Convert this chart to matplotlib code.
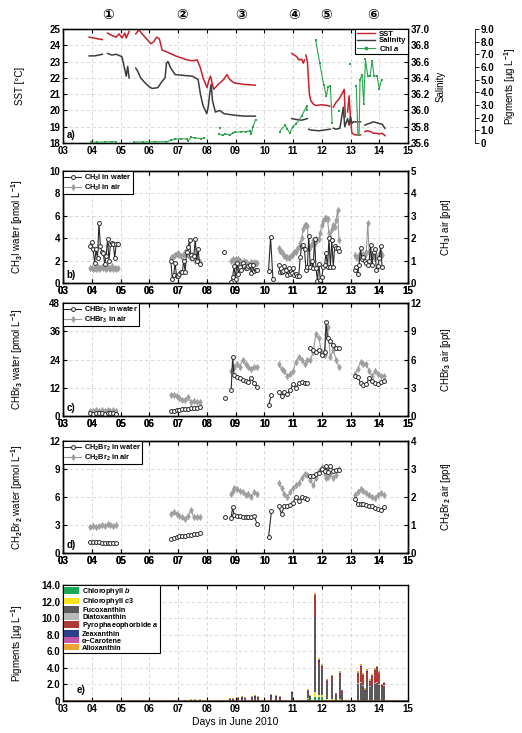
import numpy as np
import matplotlib
matplotlib.use('Agg')
import matplotlib.pyplot as plt
from matplotlib.patches import Patch
from matplotlib.lines import Line2D
from matplotlib.transforms import blended_transform_factory

plt.rcParams['font.family'] = ['Liberation Sans', 'DejaVu Sans', 'Noto Sans CJK JP']
plt.rcParams['font.weight'] = 'bold'
plt.rcParams['mathtext.fontset'] = 'custom'
plt.rcParams['mathtext.rm'] = 'Liberation Sans:bold'
plt.rcParams['mathtext.it'] = 'Liberation Sans:italic:bold'
plt.rcParams['mathtext.bf'] = 'Liberation Sans:bold'
plt.rcParams['mathtext.default'] = 'rm'
plt.rcParams['axes.unicode_minus'] = False

nan = np.nan

day_labels = ['03', '04', '05', '06', '07', '08', '09', '10', '11', '12', '13', '14', '15']
day_ticks = [3, 4, 5, 6, 7, 8, 9, 10, 11, 12, 13, 14, 15]
station_labels = ['①', '②', '③', '④', '⑤', '⑥']
station_days = [4.55, 7.15, 9.2, 11.05, 12.15, 13.8]

# ---------------- panel a ----------------
sst_t = [3.91, 4.05, 4.2, 4.37, nan,
         4.55, 4.7, 4.85, 4.95, 5.05, 5.15, 5.2, 5.3, nan,
         5.53, 5.64, 5.75, 5.93, 6.05, 6.15, 6.26, 6.35, 6.45, 6.6, 6.91, 7.32, 7.5, 7.67, 7.78, 7.87, 8.01, 8.08,
         8.13, 8.24, 8.4, 8.59, 8.7, 8.8, 8.94, 9.1, 9.28, 9.69, nan,
         10.96, 11.13, 11.2, 11.3, 11.36, 11.4, nan,
         11.45, 11.5, 11.57, 11.62, 11.7, 11.8, 12.0, 12.2, 12.28, nan,
         12.4, 12.5, 12.6, 12.7, 12.78, 12.8, 12.82, nan,
         12.9, 12.95, 13.0, 13.05, 13.15, 13.35, nan,
         13.5, 13.6, 13.7, 13.8, 13.9, 14.0, 14.1, 14.2]
sst_v = [24.5, 24.45, 24.4, 24.35, nan,
         24.75, 24.6, 24.5, 24.7, 24.45, 24.75, 24.45, 24.85, nan,
         24.7, 24.95, 24.7, 24.35, 24.1, 24.2, 24.5, 24.4, 23.7, 23.6, 23.35, 23.1, 23.05, 23.1, 22.6, 22.0, 21.4, 21.9,
         22.1, 21.3, 21.6, 21.9, 22.2, 21.9, 21.7, 21.65, 21.6, 21.55, nan,
         23.5, 23.3, 23.1, 23.15, 22.9, 23.1, nan,
         23.4, 23.0, 21.0, 20.6, 20.4, 20.3, 20.35, 20.3, 20.25, nan,
         20.2, 20.5, 20.7, 21.0, 21.3, 20.4, 19.6, nan,
         19.9, 20.9, 19.5, 18.6, 18.5, 18.5, nan,
         18.7, 18.75, 18.7, 18.6, 18.6, 18.55, 18.6, 18.45]

sal_t = [3.91, 4.1, 4.25, 4.37, nan,
         4.55, 4.7, 4.85, 5.05, 5.15, 5.2, 5.25, 5.3, nan,
         5.53, 5.6, 5.7, 5.85, 6.0, 6.1, 6.3, 6.45, 6.5, 6.55, 6.6, 6.65, 6.75, 6.9, 7.2, 7.5, 7.7, 7.78, 7.87, 8.0,
         8.05, 8.1, 8.15, 8.2, 8.3, 8.45, 8.6, 8.8, 9.0, 9.3, 9.69, nan,
         10.96, 11.1, 11.3, 11.5, nan,
         11.55, 11.6, 11.9, 12.1, 12.3, nan,
         12.4, 12.5, 12.63, 12.75, 12.8, 12.9, 12.95, 13.0, 13.05, 13.1, 13.35, nan,
         13.5, 13.65, 13.8, 13.9, 14.0, 14.1, 14.2]
sal_v = [36.67, 36.67, 36.68, 36.69, nan,
         36.70, 36.68, 36.69, 36.66, 36.5, 36.42, 36.54, 36.4, nan,
         36.52, 36.48, 36.4, 36.34, 36.29, 36.27, 36.28, 36.36, 36.38, 36.4, 36.58, 36.6, 36.52, 36.44, 36.43, 36.42,
         36.38, 36.2, 36.06, 35.96, 36.04, 36.2, 36.32, 36.12, 35.98, 36.0, 35.96, 35.95, 35.94, 35.93, 35.93, nan,
         35.9, 35.89, 35.88, 35.9, nan,
         35.77, 35.76, 35.75, 35.76, 35.77, nan,
         35.78, 35.77, 35.78, 36.04, 35.8, 35.9, 35.82, 35.92, 35.84, 35.86, 35.86, nan,
         35.82, 35.84, 35.86, 35.85, 35.84, 35.83, 35.78]

chla_t = [3.97, 4.2, 4.45, 4.7, 4.85, nan,
          5.47, 5.8, 6.2, 6.6, 6.75, 6.9, 7.1, 7.3, 7.35, 7.45, 7.6, 7.8, 7.92, nan,
          8.47, nan,
          8.42, 8.55, 8.65, 8.8, 8.9, 9.0, 9.2, 9.35, 9.5, 9.55, 9.6, 9.7, nan,
          10.54, 10.72, 10.8, 10.89, 11.0, 11.1, 11.3, 11.47, 11.5, nan,
          11.79, 11.93, 12.07, 12.16, 12.22, 12.3, 12.36, nan,
          12.6, nan,
          12.97, nan,
          13.2, 13.26, 13.3, 13.33, 13.4, 13.46, 13.52, 13.6, 13.68, 13.75, 13.82, 13.92, 14.0, 14.08]
chla_v = [0.05, 0.06, 0.08, 0.1, 0.07, nan,
          0.07, 0.08, 0.1, 0.1, 0.2, 0.3, 0.35, 0.3, 0.15, 0.45, 0.4, 0.35, 0.4, nan,
          1.2, nan,
          0.7, 0.6, 0.75, 0.6, 0.8, 0.85, 0.9, 0.9, 0.95, 0.7, 1.25, 1.85, nan,
          0.9, 1.4, 1.1, 0.8, 1.3, 1.5, 2.1, 2.9, 2.6, nan,
          8.1, 6.3, 4.6, 3.7, 4.4, 4.5, 1.6, nan,
          2.5, nan,
          6.2, nan,
          4.5, 0.6, 0.6, 5.0, 5.4, 3.1, 6.6, 5.3, 5.3, 6.5, 5.3, 5.3, 4.3, 5.0]

# ---------------- panel b ----------------
tb = [3.95, 4.0, 4.05, 4.1, 4.15, 4.2, 4.25, 4.3, 4.35, 4.4, 4.45, 4.5, 4.55, 4.6, 4.65, 4.7, 4.75, 4.8, 4.85, 4.9, nan,
      6.75, 6.8, 6.85, 6.9, 6.95, 7.0, 7.05, 7.1, 7.15, 7.2, 7.25, 7.3, 7.35, 7.4, 7.45, 7.5, 7.55, 7.6, 7.65, 7.7, 7.75, nan,
      8.6, nan,
      8.85, 8.9, 8.95, 9.0, 9.05, 9.1, 9.15, 9.2, 9.25, 9.3, 9.35, 9.4, 9.45, 9.5, 9.55, 9.6, 9.65, 9.7, 9.75, nan,
      10.15, 10.22, 10.3, nan,
      10.5, 10.55, 10.6, 10.65, 10.7, 10.75, 10.8, 10.85, 10.9, 10.95, 11.0, 11.05, 11.1, 11.15, 11.2, 11.25, 11.3,
      11.35, 11.4, 11.45, 11.5, 11.55, 11.6, 11.65, 11.7, 11.75, 11.8, 11.85, 11.9, 11.95, 12.0, 12.05, 12.1, 12.15,
      12.2, 12.25, 12.3, 12.35, 12.4, 12.45, 12.5, 12.55, 12.6, nan,
      13.15, 13.2, 13.25, 13.3, 13.35, 13.4, 13.45, 13.5, 13.55, 13.6, 13.65, 13.7, 13.75, 13.8, 13.85, 13.9, 13.95,
      14.0, 14.05, 14.1]
ch3i_water = [3.3, 3.7, 3.0, 1.8, 3.0, 2.2, 5.4, 3.3, 2.8, 2.7, 1.7, 2.4, 3.9, 2.0, 3.5, 3.6, 3.5, 2.2, 3.5, 3.5, nan,
              2.0, 0.4, 0.7, 1.8, 0.6, 0.6, 0.8, 1.0, 1.0, 2.0, 1.0, 2.8, 3.2, 3.8, 2.5, 2.2, 2.4, 3.9, 2.0, 3.0, 1.7, nan,
              2.8, nan,
              0.1, 0.5, 1.5, 0.4, 1.8, 0.8, 1.4, 1.2, 1.8, 1.5, 1.3, 1.3, 1.5, 1.6, 0.9, 1.6, 1.1, 1.2, 1.2, nan,
              1.1, 4.1, 0.4, nan,
              1.6, 1.0, 1.0, 1.1, 1.5, 1.2, 0.7, 1.3, 0.8, 0.9, 1.3, 0.7, 0.8, 0.6, 0.6, 2.3, 3.3, 3.4, 3.0, 1.2, 1.4,
              4.2, 1.4, 2.0, 1.3, 3.9, 1.3, 0.2, 1.7, 0.3, 0.5, 1.4, 1.6, 2.7, 1.4, 4.0, 1.4, 3.8, 1.4, 3.3, 3.1, 3.1,
              2.9, nan,
              1.2, 1.4, 0.8, 1.6, 3.1, 2.1, 2.3, 2.0, 1.8, 1.6, 2.0, 3.4, 1.6, 2.8, 3.0, 1.2, 1.5, 2.2, 3.3, 1.4]
ch3i_air = [0.65, 0.66, 0.62, 0.68, 0.64, 0.7, 0.63, 0.66, 0.72, 0.65, 0.68, 0.62, 0.7, 0.66, 0.64, 0.75, 0.62, 0.66,
            0.63, 0.65, nan,
            1.1, 1.15, 1.2, 1.25, 1.3, 1.35, 1.25, 1.2, 1.15, 1.3, 1.4, 1.3, 1.25, 1.15, 1.1, 1.25, 1.2, 1.0, 1.05, 1.0,
            0.95, nan,
            nan, nan,
            1.0, 1.05, 1.0, 1.05, 1.0, 1.05, 1.0, 0.95, 0.9, 1.0, 0.95, 0.9, 0.85, 0.8, 0.95, 0.85, 0.95, 0.9, 0.9, nan,
            nan, nan, nan, nan,
            1.55, 1.45, 1.4, 1.3, 1.2, 1.15, 1.15, 1.1, 1.15, 1.25, 1.3, 1.4, 1.4, 1.5, 1.6, 1.8, 2.0, 2.4, 2.6, 2.6,
            2.55, 1.5, 1.6, 1.75, 1.9, 1.8, 1.95, 1.9, 1.95, 2.25, 2.6, 2.75, 2.9, 2.9, 2.85, 2.25, 2.0, 2.4, 2.6, 2.5,
            2.8, 3.25, 1.9, nan,
            1.25, 1.15, 1.1, 1.25, 1.2, 1.2, 1.3, 1.25, 1.4, 2.7, 1.4, 1.2, 1.25, 1.15, 1.1, 1.2, 1.15, 1.3, 1.35, 1.25]

# ---------------- panels c, d ----------------
tc = [3.95, 4.05, 4.15, 4.25, 4.35, 4.45, 4.55, 4.65, 4.75, 4.85, nan,
      6.75, 6.85, 6.95, 7.05, 7.15, 7.25, 7.35, 7.45, 7.55, 7.65, 7.75, nan,
      8.65, nan,
      8.85, 8.9, 8.95, 9.05, 9.15, 9.25, 9.35, 9.45, 9.55, 9.65, 9.75, nan,
      10.15, 10.25, nan,
      10.5, 10.6, 10.7, 10.8, 10.9, 11.0, 11.1, 11.2, 11.3, 11.4, 11.5, nan,
      11.6, 11.7, 11.8, 11.9, 12.0, 12.1, 12.15, 12.2, 12.3, 12.4, 12.5, 12.6, nan,
      13.15, 13.25, 13.35, 13.45, 13.55, 13.65, 13.75, 13.85, 13.95, 14.05, 14.15]
chbr3_water = [1.2, 1.0, 1.3, 1.1, 1.2, 1.0, 1.3, 1.1, 1.2, 1.0, nan,
               2.0, 2.3, 2.5, 2.7, 2.8, 3.0, 3.1, 3.3, 3.4, 3.6, 3.8, nan,
               7.5, nan,
               11.0, 25.0, 17.5, 16.5, 16.0, 15.5, 15.0, 14.5, 16.0, 14.0, 12.5, nan,
               4.5, 9.0, nan,
               10.0, 8.5, 10.2, 9.5, 11.0, 13.5, 12.0, 14.0, 14.5, 14.2, 14.0, nan,
               29, 28, 27, 28, 26, 27, 40, 33, 32, 30, 29, 29, nan,
               17, 16.5, 14, 13, 13.5, 16, 15, 14, 13.5, 14.5, 15]
chbr3_air = [0.55, 0.5, 0.6, 0.52, 0.62, 0.55, 0.65, 0.58, 0.6, 0.52, nan,
             2.25, 2.2, 2.12, 1.95, 1.75, 1.7, 2.0, 1.45, 1.62, 1.5, 1.45, nan,
             nan, nan,
             4.75, 5.0, 5.25, 5.5, 5.25, 6.0, 5.5, 5.25, 5.0, 5.25, 5.25, nan,
             nan, nan, nan,
             5.5, 5.0, 4.75, 4.25, 4.5, 4.75, 5.75, 6.25, 6.0, 5.5, 6.0, nan,
             6.0, 6.75, 8.75, 8.25, 6.75, 6.5, 8.75, 9.5, 6.25, 7.0, 6.0, 5.25, nan,
             4.5, 5.0, 5.75, 5.5, 5.5, 4.75, 4.25, 4.75, 4.5, 4.25, 4.25]
ch2br2_water = [1.2, 1.2, 1.15, 1.15, 1.1, 1.1, 1.1, 1.05, 1.1, 1.1, nan,
                1.5, 1.6, 1.7, 1.8, 1.85, 1.85, 1.9, 1.95, 2.0, 2.05, 2.1, nan,
                3.9, nan,
                3.8, 4.9, 4.1, 4.0, 3.95, 3.9, 3.9, 3.9, 3.9, 4.0, 3.1, nan,
                1.7, 4.5, nan,
                5.0, 4.2, 5.0, 5.0, 5.1, 5.4, 6.0, 5.6, 6.0, 5.9, 5.8, nan,
                8.2, 8.3, 8.5, 8.6, 9.0, 8.8, 9.3, 8.7, 9.3, 8.8, 8.9, 8.9, nan,
                5.8, 5.3, 5.2, 5.2, 5.1, 5.0, 5.0, 4.8, 4.7, 4.6, 4.9]
ch2br2_air = [0.93, 0.97, 0.93, 0.97, 1.0, 0.97, 1.03, 1.0, 0.97, 1.0, nan,
              1.4, 1.47, 1.4, 1.33, 1.27, 1.2, 1.33, 1.53, 1.27, 1.3, 1.27, nan,
              nan, nan,
              2.1, 2.2, 2.33, 2.27, 2.2, 2.17, 2.07, 2.1, 2.0, 2.17, 2.1, nan,
              nan, nan, nan,
              2.5, 2.33, 2.1, 2.0, 2.17, 2.33, 2.43, 2.5, 2.67, 2.83, 2.77, nan,
              2.6, 2.43, 2.67, 2.93, 3.07, 2.83, 2.67, 2.73, 2.83, 2.67, 2.77, 3.0, nan,
              2.07, 2.17, 2.27, 2.2, 2.13, 2.07, 2.0, 1.97, 2.07, 2.13, 2.07]

# ---------------- panel e ----------------
bar_days = [4.0, 4.2, 4.4, 4.6, 4.85,
            6.85, 7.05, 7.25, 7.45, 7.6, 7.75,
            8.8, 8.93, 9.08, 9.22, 9.33,
            9.56, 9.68, 9.79,
            10.25, 10.4, 10.55, 10.95,
            11.52, 11.6, 11.78, 11.9, 12.02,
            12.19, 12.37, 12.49, 12.65, 12.7,
            13.27, 13.35, 13.45, 13.52, 13.59, 13.67, 13.75, 13.84, 13.92, 14.0, 14.1, 14.18]
chl_b = [0, 0, 0, 0, 0, 0, 0, 0, 0, 0, 0, 0, 0, 0, 0, 0, 0, 0, 0,
         0.02, 0.02, 0.02, 0.05, 0.25, 0.05, 0.5, 0.45, 0.45, 0.15, 0.1, 0, 0.15, 0,
         0, 0, 0, 0, 0, 0, 0, 0, 0, 0, 0, 0]
chl_c3 = [0, 0, 0, 0, 0, 0, 0, 0, 0, 0, 0, 0.01, 0.01, 0.01, 0.02, 0.01, 0.02, 0.02, 0.02,
          0.03, 0.03, 0.02, 0.05, 0.1, 0.03, 0.55, 0.3, 0.25, 0.15, 0.2, 0.05, 0.1, 0.05,
          0.05, 0.1, 0.05, 0.05, 0.1, 0.05, 0.1, 0.1, 0.1, 0.08, 0.05, 0.05]
fuco = [0.02, 0.02, 0.02, 0.02, 0.02, 0.03, 0.05, 0.04, 0.07, 0.09, 0.07, 0.12, 0.1, 0.16, 0.2, 0.16, 0.22, 0.28, 0.24,
        0.35, 0.3, 0.22, 0.6, 0.6, 0.35, 9.0, 3.6, 3.0, 1.8, 2.1, 0.65, 2.5, 0.75,
        2.0, 2.1, 1.8, 1.0, 2.3, 1.7, 1.9, 2.0, 2.1, 1.9, 1.5, 1.8]
diato = [0, 0, 0, 0, 0, 0, 0, 0, 0, 0, 0, 0, 0, 0, 0, 0, 0, 0, 0,
         0, 0, 0, 0, 0, 0, 0, 0, 0, 0, 0, 0, 0, 0,
         0.1, 0.1, 0.05, 0.05, 0.05, 0.05, 0.05, 0.05, 0.05, 0.05, 0.05, 0.05]
pyro = [0, 0, 0, 0, 0, 0, 0.02, 0.01, 0.02, 0.03, 0.02, 0.05, 0.04, 0.06, 0.08, 0.06, 0.08, 0.1, 0.09,
        0.1, 0.1, 0.08, 0.15, 0.1, 0.1, 2.7, 0.4, 0.35, 0.25, 0.45, 0.1, 0.5, 0.35,
        1.1, 1.8, 1.1, 0.1, 1.1, 0.5, 0.9, 1.5, 1.7, 1.3, 0.2, 0.2]
zea = [0.01, 0.01, 0.01, 0.01, 0.01, 0.02, 0.03, 0.02, 0.03, 0.04, 0.03, 0.1, 0.08, 0.12, 0.15, 0.12, 0.15, 0.18, 0.16,
       0.18, 0.15, 0.12, 0.22, 0.2, 0.1, 0.08, 0.15, 0.15, 0.12, 0.15, 0.1, 0.15, 0.1,
       0.1, 0.1, 0.1, 0.1, 0.1, 0.1, 0.1, 0.1, 0.1, 0.1, 0.08, 0.08]
acar = [0, 0, 0, 0, 0, 0, 0, 0, 0, 0, 0, 0.01, 0.01, 0.01, 0.01, 0.01, 0.01, 0.01, 0.01,
        0.02, 0.02, 0.01, 0.03, 0.03, 0.02, 0.02, 0.03, 0.03, 0.02, 0.02, 0.02, 0.02, 0.02,
        0.03, 0.03, 0.03, 0.02, 0.03, 0.02, 0.03, 0.03, 0.03, 0.03, 0.02, 0.02]
allo = [0.07, 0.07, 0.07, 0.07, 0.07, 0.05, 0.05, 0.05, 0.08, 0.09, 0.08, 0.08, 0.07, 0.1, 0.1, 0.1, 0.13, 0.15, 0.14,
        0.12, 0.1, 0.09, 0.15, 0.2, 0.1, 0.15, 0.2, 0.2, 0.15, 0.15, 0.1, 0.15, 0.1,
        0.2, 0.2, 0.2, 0.2, 0.2, 0.2, 0.2, 0.2, 0.2, 0.2, 0.15, 0.15]
pigment_names = ['Chlorophyll $\\mathit{b}$', 'Chlorophyll $\\mathit{c3}$', 'Fucoxanthin', 'Diatoxanthin',
                 'Pyrophaeophorbide $\\mathit{a}$', 'Zeaxanthin', 'α−Carotene', 'Alloxanthin']
pigment_colors = ['#1aaa55', '#f5e61e', '#5a5a5a', '#b8b8b8', '#b03a36', '#2c3e8c', '#c455a8', '#e8a532']

# ---------------- figure ----------------
FS = 7
fig = plt.figure(figsize=(5.22, 7.33), dpi=100)
L0, W0 = 63 / 522, 345 / 522


def rect(top, bot):
    return [L0, 1 - bot / 733, W0, (bot - top) / 733]


def style(ax, grid=True):
    ax.set_xlim(3, 15)
    ax.set_xticks(day_ticks)
    ax.set_xticklabels(day_labels)
    ax.tick_params(direction='in', length=3, width=0.8, labelsize=FS, pad=2, top=True)
    if grid:
        ax.grid(True, ls=(0, (4, 3)), color='#d4d4d4', lw=0.6)
    for s in ax.spines.values():
        s.set_linewidth(1.0)


def leg_style(leg):
    fr = leg.get_frame()
    fr.set_edgecolor('black')
    fr.set_linewidth(0.8)
    fr.set_boxstyle('square', pad=0)


LX = -0.11

# panel a
axa = fig.add_axes(rect(29, 143))
style(axa)
axa.set_ylim(18, 25)
axa.set_yticks([18, 19, 20, 21, 22, 23, 24, 25])
axa.plot(sst_t, sst_v, color='#c8202a', lw=1.1)
axa.set_ylabel('SST [°C]', fontsize=FS)
axa.yaxis.set_label_coords(LX, 0.5)
axa.text(0.01, 0.03, 'a)', transform=axa.transAxes, fontsize=FS, va='bottom')
axs = axa.twinx()
axs.set_ylim(35.6, 37.0)
axs.set_yticks([35.6, 35.8, 36.0, 36.2, 36.4, 36.6, 36.8, 37.0])
axs.set_yticklabels(['35.6', '35.8', '36.0', '36.2', '36.4', '36.6', '36.8', '37.0'])
axs.tick_params(direction='in', length=3, width=0.8, labelsize=FS, pad=2)
axs.plot(sal_t, sal_v, color='#3c3c3c', lw=1.1)
axs.set_ylabel('Salinity', fontsize=FS)
axs.yaxis.set_label_coords(1.08, 0.5)
axp = axa.twinx()
axp.spines['right'].set_position(('axes', 1.194))
axp.spines['right'].set_linewidth(0.6)
axp.set_ylim(0, 9)
axp.set_yticks([0, 1, 2, 3, 4, 5, 6, 7, 8, 9])
axp.set_yticklabels(['0', '1.0', '2.0', '3.0', '4.0', '5.0', '6.0', '7.0', '8.0', '9.0'])
axp.tick_params(direction='out', length=3, width=0.6, labelsize=FS, pad=1)
axp.plot(chla_t, chla_v, color='#2ca34a', lw=0.8, marker='s', ms=1.8, mew=0)
axp.set_ylabel('Pigments [µg L$^{-1}$]', fontsize=FS)
axp.yaxis.set_label_coords(1.272, 0.5)
hdl = [Line2D([], [], color='#c8202a', lw=1.0), Line2D([], [], color='#3c3c3c', lw=1.0),
       Line2D([], [], color='#2ca34a', lw=0.8, marker='s', ms=1.8)]
leg = axp.legend(hdl, ['SST', 'Salinity', 'Chl $\\mathit{a}$'], loc='upper right', fontsize=5.5,
                 borderaxespad=0, handlelength=2.4, labelspacing=-0.1, borderpad=0.2, framealpha=1,
                 fancybox=False, handletextpad=0.5)
leg_style(leg)
tr = blended_transform_factory(axa.transData, axa.transAxes)
for d, s in zip(station_days, station_labels):
    axa.text(d, 1.125, s, transform=tr, ha='center', va='center', fontsize=10,
             family=['DejaVu Sans', 'Noto Sans CJK JP'], fontweight='bold')


def gas_panel(top, bot, t, water, air, ylim_w, yt_w, ylim_a, yt_a, name, lab):
    ax2 = fig.add_axes(rect(top, bot))
    style(ax2)
    ax2.set_ylim(*ylim_a)
    ax2.set_yticks(yt_a)
    ax2.tick_params(left=False, right=True, labelleft=False, labelright=True)
    ax2.yaxis.set_label_position('right')
    ax = fig.add_axes(rect(top, bot), sharex=ax2)
    ax.patch.set_visible(False)
    style(ax, grid=False)
    ax.tick_params(right=False)
    ax.set_ylim(*ylim_w)
    ax.set_yticks(yt_w)
    l_air, = ax2.plot(t, air, color='#9a9a9a', lw=0.8, marker='d', ms=3.2, mew=0.4, mfc='#a0a0a0')
    l_w, = ax.plot(t, water, color='#2a2a2a', lw=0.8, marker='o', ms=2.8, mew=0.7, mfc='white')
    ax.set_ylabel(name + ' water [pmol L$^{-1}$]', fontsize=FS)
    ax.yaxis.set_label_coords(LX, 0.5)
    ax2.set_ylabel(name + ' air [ppt]', fontsize=FS)
    ax2.yaxis.set_label_coords(1.09, 0.5)
    ax.text(0.01, 0.03, lab, transform=ax.transAxes, fontsize=FS, va='bottom')
    lg = ax.legend([l_w, l_air], [name + ' in water', name + ' in air'], loc='upper left', fontsize=5.3,
                   borderaxespad=0, handlelength=2.2, labelspacing=0.0, borderpad=0.2, framealpha=1,
                   fancybox=False, handletextpad=0.4)
    leg_style(lg)
    return ax


gas_panel(171, 283, tb, ch3i_water, ch3i_air, (0, 10), [0, 2, 4, 6, 8, 10], (0, 5), [0, 1, 2, 3, 4, 5],
          'CH$_3$I', 'b)')
gas_panel(303, 416, tc, chbr3_water, chbr3_air, (0, 48), [0, 12, 24, 36, 48], (0, 12), [0, 3, 6, 9, 12],
          'CHBr$_3$', 'c)')
gas_panel(441, 553, tc, ch2br2_water, ch2br2_air, (0, 12), [0, 3, 6, 9, 12], (0, 4), [0, 1, 2, 3, 4],
          'CH$_2$Br$_2$', 'd)')

# panel e
axe = fig.add_axes(rect(585, 701))
style(axe)
axe.set_axisbelow(True)
axe.set_ylim(0, 14)
axe.set_yticks([0, 2, 4, 6, 8, 10, 12, 14])
axe.set_yticklabels(['0', '2.0', '4.0', '6.0', '8.0', '10.0', '12.0', '14.0'])
pig = [chl_b, chl_c3, fuco, diato, pyro, zea, acar, allo]
bottom = np.zeros(len(bar_days))
for vals, col, nm in zip(pig, pigment_colors, pigment_names):
    axe.bar(bar_days, vals, bottom=bottom, width=0.07, color=col, edgecolor='none', label=nm)
    bottom = bottom + np.array(vals)
axe.axhline(0, color='#6b4a2a', lw=1.2)
axe.set_ylabel('Pigments [µg L$^{-1}$]', fontsize=FS)
axe.yaxis.set_label_coords(LX, 0.5)
axe.set_xlabel('Days in June 2010', fontsize=FS + 0.5, labelpad=2)
axe.text(0.04, 0.05, 'e)', transform=axe.transAxes, fontsize=FS, va='bottom')
hp = [Patch(facecolor=c, edgecolor='none') for c in pigment_colors]
lg = axe.legend(hp, pigment_names, loc='upper left', fontsize=5.2, borderaxespad=0, handlelength=2.1,
                handleheight=1.0, labelspacing=-0.12, borderpad=0.15, framealpha=1, fancybox=False,
                handletextpad=0.4)
leg_style(lg)

fig.savefig('out.png', dpi=100)
